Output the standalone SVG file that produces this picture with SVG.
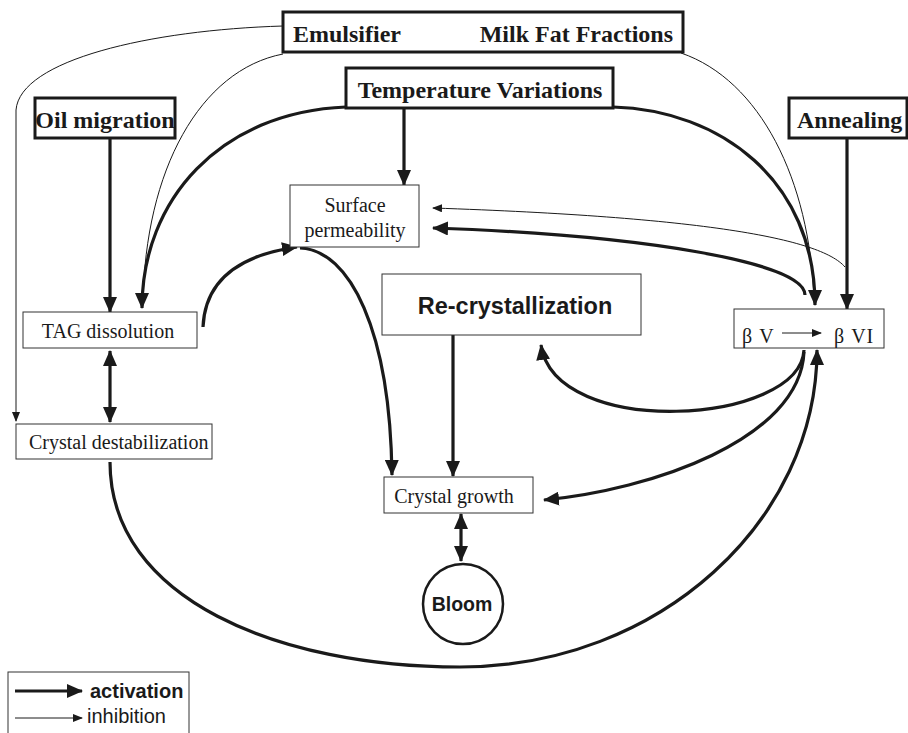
<svg xmlns="http://www.w3.org/2000/svg" width="908" height="733" viewBox="0 0 908 733">
<defs>
<marker id="ah" markerUnits="userSpaceOnUse" markerWidth="16" markerHeight="14" refX="15" refY="7" orient="auto-start-reverse" viewBox="0 0 16 14"><path d="M0,0 L16,7 L0,14 z" fill="#1a1a1a"/></marker>
<marker id="at" markerUnits="userSpaceOnUse" markerWidth="10" markerHeight="8" refX="9" refY="4" orient="auto" viewBox="0 0 10 8"><path d="M0,0 L10,4 L0,8 z" fill="#1a1a1a"/></marker>
</defs>
<style>
.bg{fill:#fff}
.tb{fill:#fff;stroke:#1a1a1a;stroke-width:3}
.nb{fill:#fff;stroke:#333;stroke-width:1}
.th{fill:none;stroke:#1a1a1a;stroke-width:3.2}
.tn{fill:none;stroke:#1a1a1a;stroke-width:1}
.sb{font-family:"Liberation Serif",serif;font-weight:bold;font-size:24px;fill:#1a1a1a}
.sr{font-family:"Liberation Serif",serif;font-size:20px;fill:#1a1a1a}
.ab{font-family:"Liberation Sans",Arial,sans-serif;font-weight:bold;fill:#1a1a1a}
.ar{font-family:"Liberation Sans",Arial,sans-serif;fill:#1a1a1a}
</style>
<rect class="bg" x="0" y="0" width="908" height="733"/>
<g id="connectors">
<path class="tn" d="M283,26 C150,30 20,60 16,110 L16,421" marker-end="url(#at)"/>
<path class="tn" d="M283,54 C200,70 145,170 143,303"/>
<path class="th" d="M346,107 C220,112 142,200 142,308" marker-end="url(#ah)"/>
<path class="tn" d="M681,53 C760,80 810,180 814,300"/>
<path class="th" d="M613,107 C720,110 815,180 815,305" marker-end="url(#ah)"/>
<path class="th" d="M110,138 L110,312" marker-end="url(#ah)"/>
<path class="th" d="M404,108 L404,185" marker-end="url(#ah)"/>
<path class="th" d="M847,138 L847,309" marker-end="url(#ah)"/>
<path class="tn" d="M845,267 C820,238 700,217 433,208" marker-end="url(#at)"/>
<path class="th" d="M805,295 C805,262 640,235 433,228" marker-end="url(#ah)"/>
<path class="th" d="M203,327 C205,280 240,255 297,247" marker-end="url(#ah)"/>
<path class="th" d="M300,248 C350,250 390,330 392,475" marker-end="url(#ah)"/>
<path class="th" d="M453,335 L453,476" marker-end="url(#ah)"/>
<path class="th" d="M804,350 C800,425 555,440 541,345" marker-end="url(#ah)"/>
<path class="th" d="M804,352 C800,440 650,490 544,500" marker-end="url(#ah)"/>
<path class="th" d="M110,462 C110,600 280,667 460,667 C660,667 817,520 817,350" marker-end="url(#ah)"/>
<path class="th" d="M110,351 L110,422" marker-start="url(#ah)" marker-end="url(#ah)"/>
<path class="th" d="M461,514 L461,561" marker-start="url(#ah)" marker-end="url(#ah)"/>
</g>
<g id="emulsifier-milkfat">
<rect class="tb" x="283" y="12" width="400" height="40"/>
<text class="sb" x="293" y="42">Emulsifier</text>
<text class="sb" x="673" y="42" text-anchor="end">Milk Fat Fractions</text>
</g>
<g id="temperature">
<rect class="tb" x="346" y="68" width="267" height="40"/>
<text class="sb" x="480" y="98" text-anchor="middle">Temperature Variations</text>
</g>
<g id="oil-migration">
<rect class="tb" x="35" y="98" width="140" height="40"/>
<text class="sb" x="105" y="128" text-anchor="middle">Oil migration</text>
</g>
<g id="annealing">
<rect class="tb" x="789" y="98" width="118" height="40"/>
<text class="sb" x="797" y="128">Annealing</text>
</g>
<g id="surface-permeability">
<rect class="nb" x="290" y="185" width="129" height="62"/>
<text class="sr" x="355" y="212" text-anchor="middle">Surface</text>
<text class="sr" x="355" y="237" text-anchor="middle">permeability</text>
</g>
<g id="tag-dissolution">
<rect class="nb" x="23" y="312" width="174" height="36"/>
<text class="sr" x="108" y="338" text-anchor="middle">TAG dissolution</text>
</g>
<g id="crystal-destabilization">
<rect class="nb" x="16" y="424" width="196" height="35"/>
<text class="sr" x="29" y="449">Crystal destabilization</text>
</g>
<g id="recrystallization">
<rect class="nb" x="382" y="274" width="259" height="61"/>
<text class="ab" x="515" y="314" font-size="23.5" text-anchor="middle">Re-crystallization</text>
</g>
<g id="beta">
<rect class="nb" x="734" y="309" width="150" height="39"/>
<text class="sr" x="742" y="343" font-size="25" letter-spacing="1">β V</text>
<path class="tn" d="M782,333 L821,333" marker-end="url(#at)"/>
<text class="sr" x="834" y="343" font-size="25" letter-spacing="1">β VI</text>
</g>
<g id="crystal-growth">
<rect class="nb" x="384" y="477" width="149" height="36"/>
<text class="sr" x="454" y="503" text-anchor="middle">Crystal growth</text>
</g>
<g id="bloom">
<circle cx="463" cy="604" r="40" fill="#fff" stroke="#1a1a1a" stroke-width="2.5"/>
<text class="ab" x="462" y="611" font-size="19.5" text-anchor="middle">Bloom</text>
</g>
<g id="legend">
<rect class="nb" x="8" y="672" width="181" height="64"/>
<path class="th" d="M15,691 L82,691" marker-end="url(#ah)"/>
<text class="ab" x="90" y="698" font-size="20">activation</text>
<path class="tn" d="M15,718 L82,718" marker-end="url(#at)"/>
<text class="ar" x="87" y="723" font-size="20">inhibition</text>
</g>
</svg>
